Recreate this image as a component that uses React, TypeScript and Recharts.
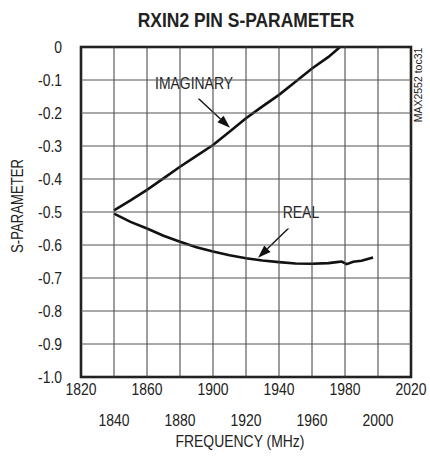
import React from 'react';
import {
  LineChart, Line, XAxis, YAxis, ReferenceLine, ReferenceDot,
} from 'recharts';

const FONT = "'Liberation Sans', Arial, sans-serif";
const NARROW = 0.82;

// layout constants
const CHART_W = 430;
const CHART_H = 460;
const M_TOP = 47;
const M_RIGHT = 19;
const Y_AXIS_W = 81;
const X_AXIS_H = 83;
const Y_TICK_GAP = 19;
const PLOT_W = CHART_W - Y_AXIS_W - M_RIGHT;
const PLOT_H = CHART_H - M_TOP - X_AXIS_H;

const freqTicks = [1820, 1840, 1860, 1880, 1900, 1920, 1940, 1960, 1980, 2000, 2020];
const sTicks = [0, -0.1, -0.2, -0.3, -0.4, -0.5, -0.6, -0.7, -0.8, -0.9, -1.0];
const sTickLabels = ['0', '-0.1', '-0.2', '-0.3', '-0.4', '-0.5', '-0.6', '-0.7', '-0.8', '-0.9', '-1.0'];

const imagFreq = [1840, 1850, 1860, 1870, 1880, 1890, 1900, 1910, 1920, 1930, 1940, 1950, 1960, 1970, 1977];
const imagValues = [-0.495, -0.465, -0.433, -0.398, -0.363, -0.33, -0.297, -0.257, -0.216, -0.18, -0.145, -0.105, -0.065, -0.03, 0];

const realFreq = [1840, 1850, 1860, 1870, 1880, 1890, 1900, 1910, 1920, 1930, 1940, 1950, 1960, 1970, 1975, 1978, 1981, 1985, 1990, 1997];
const realValues = [-0.505, -0.53, -0.55, -0.572, -0.59, -0.607, -0.62, -0.631, -0.64, -0.647, -0.652, -0.656, -0.657, -0.655, -0.652, -0.65, -0.658, -0.651, -0.648, -0.638];

const imagData = imagFreq.map((f, i) => ({ f, s: imagValues[i] }));
const realData = realFreq.map((f, i) => ({ f, s: realValues[i] }));

const X_MIN = freqTicks[0];
const X_MAX = freqTicks[freqTicks.length - 1];
const Y_MAX = sTicks[0];
const Y_MIN = sTicks[sTicks.length - 1];

const title = 'RXIN2 PIN S-PARAMETER';
const xTitle = 'FREQUENCY (MHz)';
const yTitle = 'S-PARAMETER';
const sideNote = 'MAX2552 toc31';

type NTProps = {
  x: number; y: number; size: number; anchor?: 'start' | 'middle' | 'end';
  bold?: boolean; rotate?: number; scale?: number; children: React.ReactNode;
};

const NText = ({ x, y, size, anchor = 'middle', bold = false, rotate = 0, scale = NARROW, children }: NTProps) => (
  <text
    transform={`translate(${x},${y}) rotate(${rotate}) scale(${scale},1)`}
    x={0}
    y={0}
    textAnchor={anchor}
    fontFamily={FONT}
    fontWeight={bold ? 'bold' : 'normal'}
    fontSize={size}
    fill="#222"
  >
    {children}
  </text>
);

// x tick: label (two staggered rows) + vertical grid line; first tick also draws the plot frame
const XTick = (props: any) => {
  const { x, y, payload, index } = props;
  const row = index % 2 === 0 ? 0 : 1;
  const last = index === freqTicks.length - 1;
  return (
    <g>
      {index > 0 && !last && (
        <line x1={x} y1={y} x2={x} y2={y - PLOT_H} stroke="#3c3c3c" strokeWidth={1} />
      )}
      {index === 0 && (
        <rect x={x} y={y - PLOT_H} width={PLOT_W} height={PLOT_H} fill="none" stroke="#222" strokeWidth={2.6} />
      )}
      <NText x={x} y={y + 18 + row * 31} size={17}>
        {payload.value}
      </NText>
    </g>
  );
};

// y tick: label + horizontal grid line
const YTick = (props: any) => {
  const { x, y, payload, index } = props;
  const idx = sTicks.findIndex((t) => Math.abs(t - payload.value) < 1e-6);
  const edge = idx === 0 || idx === sTicks.length - 1 || index === 0 || index === sTicks.length - 1;
  return (
    <g>
      {!edge && (
        <line x1={x + Y_TICK_GAP} y1={y} x2={x + Y_TICK_GAP + PLOT_W} y2={y} stroke="#555" strokeWidth={1} />
      )}
      <NText x={x} y={y + 6} size={17} anchor="end">
        {idx >= 0 ? sTickLabels[idx] : String(payload.value)}
      </NText>
    </g>
  );
};

const Arrow = (props: any) => {
  const { x1, y1, x2, y2 } = props;
  const dx = x2 - x1;
  const dy = y2 - y1;
  const len = Math.sqrt(dx * dx + dy * dy) || 1;
  const ux = dx / len;
  const uy = dy / len;
  const head = 13;
  const hw = 4.5;
  const bx = x2 - ux * head;
  const by = y2 - uy * head;
  const px = -uy;
  const py = ux;
  return (
    <g>
      <line x1={x1} y1={y1} x2={bx} y2={by} stroke="#111" strokeWidth={1.4} />
      <polygon
        points={`${x2},${y2} ${bx + px * hw},${by + py * hw} ${bx - px * hw},${by - py * hw}`}
        fill="#111"
      />
    </g>
  );
};

const makeLabel = (text: string, left: number, right: number, top: number, bottom: number) => (props: any) => {
  const { cx, cy } = props;
  return (
    <g>
      <rect x={cx - left} y={cy - top} width={left + right} height={top + bottom} fill="#fff" />
      <NText x={cx} y={cy + 6} size={17}>
        {text}
      </NText>
    </g>
  );
};

export default function App() {
  return (
    <div style={{ position: 'absolute', left: 0, top: 0, width: CHART_W, height: CHART_H }}>
      <LineChart
        width={CHART_W}
        height={CHART_H}
        data={realData}
        margin={{ top: M_TOP, right: M_RIGHT, bottom: 0, left: 0 }}
      >
        <XAxis
          dataKey="f"
          type="number"
          domain={[X_MIN, X_MAX]}
          ticks={freqTicks}
          height={X_AXIS_H}
          tickSize={0}
          tickMargin={0}
          axisLine={false}
          tickLine={false}
          tick={<XTick />}
          interval={0}
        />
        <YAxis
          type="number"
          domain={[Y_MIN, Y_MAX]}
          ticks={sTicks}
          width={Y_AXIS_W}
          tickSize={0}
          tickMargin={Y_TICK_GAP}
          axisLine={false}
          tickLine={false}
          tick={<YTick />}
          interval={0}
        />
        <ReferenceDot x={1888.5} y={-0.1106} r={1} ifOverflow="visible" shape={makeLabel('IMAGINARY', 46, 46, 20, 15)} />
        <ReferenceDot x={1953.3} y={-0.4985} r={1} ifOverflow="visible" shape={makeLabel('REAL', 30, 25, 18, 17)} />
        <ReferenceLine
          segment={[{ x: 1891, y: -0.155 }, { x: 1910.3, y: -0.245 }]}
          ifOverflow="visible"
          shape={Arrow}
        />
        <ReferenceLine
          segment={[{ x: 1946.7, y: -0.545 }, { x: 1927.3, y: -0.639 }]}
          ifOverflow="visible"
          shape={Arrow}
        />
        <Line data={imagData} dataKey="s" type="linear" stroke="#111" strokeWidth={2.6} dot={false} isAnimationActive={false} />
        <Line data={realData} dataKey="s" type="linear" stroke="#111" strokeWidth={2.6} dot={false} isAnimationActive={false} />
        <NText x={246} y={27} size={21} bold scale={0.83}>
          {title}
        </NText>
        <NText x={240} y={447} size={17}>
          {xTitle}
        </NText>
        <NText x={23} y={206} size={16} rotate={-90}>
          {yTitle}
        </NText>
        <NText x={422} y={85} size={10.5} rotate={-90} scale={1}>
          {sideNote}
        </NText>
      </LineChart>
    </div>
  );
}
